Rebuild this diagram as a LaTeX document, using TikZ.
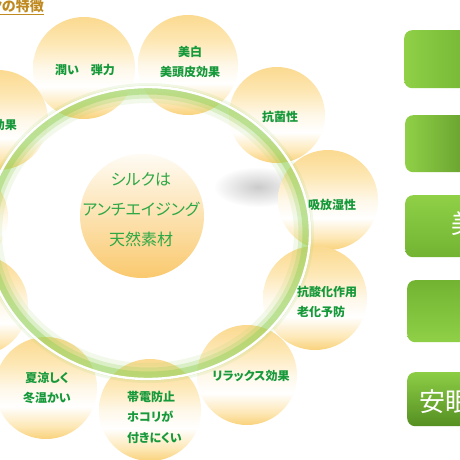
\documentclass[tikz,border=0pt]{standalone}
\usepackage{fontspec}
\newfontfamily\jp{Noto Sans CJK JP}[RawFeature=+palt]
\newfontfamily\jpn{Noto Sans CJK JP}
\usetikzlibrary{fadings}
\definecolor{ylwA}{HTML}{F9D17A}
\definecolor{ylwB}{HTML}{FDE7B4}
\definecolor{ylwC}{HTML}{FBDA90}
\definecolor{txtgreen}{HTML}{16993A}
\definecolor{midgreen}{HTML}{2EA845}
\definecolor{glowgreen}{HTML}{96D25A}
\definecolor{btnL}{HTML}{8FD047}
\definecolor{btnR}{HTML}{72B432}
\definecolor{btnD}{HTML}{558F22}
\definecolor{titlecol}{HTML}{BF8A1F}
\pgfdeclareverticalshading{ballshade}{100bp}{color(0bp)=(ylwA); color(25bp)=(ylwA); color(31bp)=(ylwB); color(41bp)=(white); color(50bp)=(white!70!ylwB); color(62bp)=(ylwB); color(75bp)=(ylwC); color(100bp)=(ylwC)}
\tikzfading[name=softshadow, inner color=transparent!55, outer color=transparent!100]
\tikzset{
  ball/.style={circle, minimum size=#1, inner sep=0pt, shading=ballshade},
  lbl/.style={font=\jp\bfseries\fontsize{12}{20.5}\selectfont, text=txtgreen, inner sep=0pt},
  btn/.style={rounded corners=8pt, minimum width=72pt, inner sep=0pt, anchor=north west},
  btntxt/.style={font=\jpn\fontsize{26}{28}\selectfont, text=white, inner sep=0pt, anchor=west}
}
\begin{document}
\begin{tikzpicture}[x=1pt,y=-1pt]
\useasboundingbox (0,0) rectangle (460,460);
\clip (0,0) rectangle (460,460);
\fill[white] (0,0) rectangle (460,460);
% shadow
\fill[black!45, path fading=softshadow] (258,187) ellipse [x radius=44, y radius=20];
% satellite circles
\node[ball=102pt] (c1) at (84,68) {};
\node[ball=100pt] (c2) at (188,65) {};
\node[ball=96pt] (c3) at (277,115) {};
\node[ball=100pt] (c4) at (328,200) {};
\node[ball=104pt] (c5) at (315,298) {};
\node[ball=100pt] (c6) at (247,375) {};
\node[ball=102pt] (c7) at (150,410) {};
\node[ball=102pt] (c8) at (46,388) {};
\node[ball=100pt] (c9) at (-22,305) {};
\node[ball=96pt] (c10) at (-40,217) {};
\node[ball=100pt] (c11) at (-2,120) {};
% central circle
\node[circle, minimum size=124pt, inner sep=0pt, top color=white!85!ylwB, middle color=ylwB, bottom color=ylwA!90!orange] (core) at (142,216) {};
% ring
\draw[glowgreen, line width=20pt, opacity=0.12] (148,233) ellipse [x radius=156, y radius=140];
\draw[glowgreen, line width=13pt, opacity=0.25] (148,233) ellipse [x radius=157, y radius=141];
\draw[glowgreen, line width=7pt, opacity=0.45] (148,233) ellipse [x radius=158, y radius=142];
\draw[white, line width=2.4pt] (148,233) ellipse [x radius=162, y radius=146];
% texts
\node[lbl] (t1) at (85,70) {潤い　弾力};
\node[lbl, align=center] (t2) at (190,62) {美白\\美頭皮効果};
\node[lbl] (t3) at (280,117) {抗菌性};
\node[lbl] (t4) at (332,205) {吸放湿性};
\node[lbl, align=left, anchor=west] (t5) at (297,302) {抗酸化作用\\老化予防};
\node[lbl] (t6) at (251,376) {リラックス効果};
\node[lbl, align=left, anchor=west] (t7) at (127,417) {帯電防止\\ホコリが\\付きにくい};
\node[lbl, align=center] (t8) at (47,388) {夏涼しく\\冬温かい};
\node[lbl, anchor=east] (t9) at (17,125) {効果};
\node[font=\jp\fontsize{16}{30}\selectfont, text=midgreen, align=center, inner sep=0pt] (tc) at (141,210) {シルクは\\アンチエイジング\\天然素材};
% buttons
\node[btn, minimum height=58pt, left color=btnL, right color=btnR] (b1) at (404,30) {};
\node[btn, minimum height=57pt, left color=btnL, right color=btnR!85!black] (b2) at (405,115) {};
\node[btn, minimum height=62pt, top color=btnL, bottom color=btnR] (b3) at (405,195) {};
\node[btn, minimum height=62pt, top color=btnR, bottom color=btnL] (b4) at (407,280) {};
\node[btn, minimum height=54pt, top color=btnL!90!btnR, bottom color=btnD] (b5) at (407,372) {};
\node[btntxt] (bt3) at (451,224) {美容};
\node[btntxt] (bt5) at (419,402) {安眠};
% title
\node[font=\jp\bfseries\fontsize{14}{16}\selectfont, text=titlecol, anchor=east, inner sep=0pt] (title) at (44,7) {\underline{シルクの特徴}};
\end{tikzpicture}
\end{document}
